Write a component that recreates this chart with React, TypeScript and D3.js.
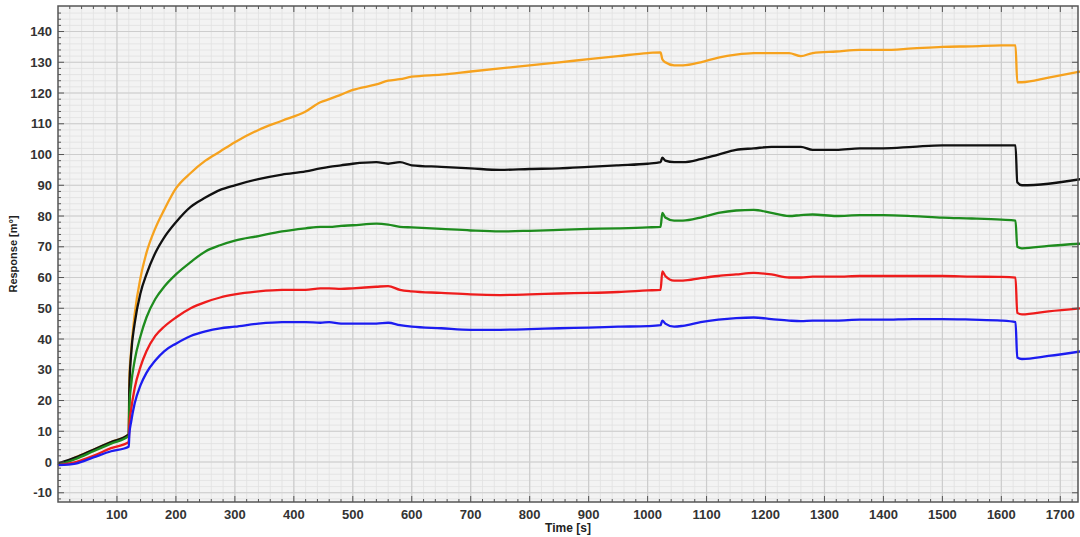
import React from "react";
import * as d3 from "d3";

// time points shared by every trace (s)
const times = [
  0, 30, 60, 90, 120, 121, 124, 130, 140, 150, 165, 180, 200, 225, 250, 275, 300, 340, 380, 420,
  445, 460, 480, 500, 540, 560, 580, 600, 650, 700, 750, 800, 850, 900, 950, 1000, 1022, 1025,
  1030, 1045, 1060, 1090, 1120, 1150, 1180, 1210, 1240, 1260, 1280, 1320, 1360, 1400, 1450, 1500,
  1550, 1600, 1624, 1627, 1635, 1680, 1735,
];

const orangeValues = [
  -1, 1.5, 4, 6.5, 9, 27, 36, 48, 60, 68, 76, 82, 89, 94, 98, 101, 104, 108, 111, 114,
  117, 118, 119.5, 121, 122.8, 124, 124.5, 125.3, 126, 127, 128, 129, 130, 131, 132, 133, 133.2, 131,
  130, 129, 129, 130, 131.5, 132.5, 133, 133, 133, 132, 133, 133.5, 134, 134, 134.5, 135,
  135.2, 135.5, 135.5, 123.5, 123.5, 125, 127,
];

const blackValues = [
  -0.5, 1.5, 4, 6.5, 9, 24, 35, 45, 55, 61, 68, 73, 78, 83, 86, 88.5, 90, 92, 93.5, 94.5,
  95.5, 96, 96.5, 97, 97.5, 97, 97.5, 96.5, 96, 95.5, 95, 95.3, 95.5, 96, 96.5, 97, 97.5, 99,
  98, 97.5, 97.5, 98.5, 100, 101.5, 102, 102.5, 102.5, 102.5, 101.5, 101.5, 102, 102, 102.5, 103,
  103, 103, 103, 91, 90, 90.5, 92,
];

const greenValues = [
  -1, 1, 3.5, 6, 8.5, 18, 25, 33, 41, 47, 53, 57, 61, 65, 68.5, 70.5, 72, 73.5, 75, 76,
  76.5, 76.5, 76.8, 77, 77.5, 77.2, 76.5, 76.3, 75.8, 75.3, 75, 75.2, 75.5, 75.8, 76, 76.3, 76.5, 81,
  79.5, 78.5, 78.5, 79.5, 81, 81.8, 82, 81, 80, 80.3, 80.5, 80, 80.3, 80.3, 80, 79.5,
  79.2, 78.8, 78.5, 70, 69.5, 70.3, 71,
];

const redValues = [
  -1, 0, 2, 4.5, 6.5, 12, 17, 24, 31, 36, 41, 44, 47, 50, 52, 53.5, 54.5, 55.5, 56, 56,
  56.5, 56.5, 56.3, 56.5, 57, 57.2, 56, 55.5, 55, 54.5, 54.3, 54.5, 54.8, 55, 55.3, 55.8, 56, 62,
  60.5, 59, 59, 59.8, 60.5, 61, 61.5, 61, 60, 60, 60.3, 60.3, 60.5, 60.5, 60.5, 60.5,
  60.3, 60.2, 60, 48.5, 48, 49, 50,
];

const blueValues = [
  -1, -0.5, 1.5, 3.5, 5, 9, 13, 19, 25, 29, 33, 36, 38.5, 41, 42.5, 43.5, 44, 45, 45.5, 45.5,
  45.3, 45.5, 45, 45, 45, 45.3, 44.5, 44, 43.5, 43, 43, 43.2, 43.5, 43.7, 44, 44.2, 44.5, 46,
  45, 44, 44.3, 45.5, 46.3, 46.8, 47, 46.5, 46, 45.8, 46, 46, 46.3, 46.3, 46.5, 46.5,
  46.3, 46, 45.5, 34, 33.5, 34.5, 36,
];

const seriesColors = ["#f6a21e", "#111111", "#1e8c1e", "#ee1c1c", "#1c1cf0"];
const seriesList = [orangeValues, blackValues, greenValues, redValues, blueValues];

const xTickLabels = [100, 200, 300, 400, 500, 600, 700, 800, 900, 1000, 1100, 1200, 1300, 1400, 1500, 1600, 1700];
const yTickLabels = [-10, 0, 10, 20, 30, 40, 50, 60, 70, 80, 90, 100, 110, 120, 130, 140];

const W = 1080;
const H = 537;
const margin = { top: 6, right: 2, bottom: 35, left: 58 };

export default function App() {
  const left = margin.left;
  const right = W - margin.right;
  const top = margin.top;
  const bottom = H - margin.bottom;

  const x = d3.scaleLinear().domain([0, 1730]).range([left, right]);
  const y = d3.scaleLinear().domain([-13, 148.3]).range([bottom, top]);

  const minorX = d3.range(20, 1730, 20);
  const minorY = d3.range(-12, 148, 2);

  const line = d3
    .line<number>()
    .x((_, i) => x(times[i]))
    .y((d) => y(d))
    .curve(d3.curveMonotoneX);

  const font = "Arial, 'Liberation Sans', sans-serif";

  return (
    <svg
      width={W}
      height={H}
      style={{ position: "absolute", left: 0, top: 0, background: "#fff" }}
    >
      <rect x={left} y={top} width={right - left} height={bottom - top} fill="#f3f3f3" />
      {/* minor grid */}
      {minorX.map((v) => (
        <line key={"mx" + v} x1={x(v)} x2={x(v)} y1={top} y2={bottom} stroke="#e1e1e1" strokeWidth={0.8} />
      ))}
      {minorY.map((v) => (
        <line key={"my" + v} x1={left} x2={right} y1={y(v)} y2={y(v)} stroke="#e1e1e1" strokeWidth={0.8} />
      ))}
      {/* major grid */}
      {xTickLabels.map((v) => (
        <line key={"gx" + v} x1={x(v)} x2={x(v)} y1={top} y2={bottom} stroke="#cdcdcd" strokeWidth={1.2} />
      ))}
      {yTickLabels.map((v) => (
        <line key={"gy" + v} x1={left} x2={right} y1={y(v)} y2={y(v)} stroke="#cdcdcd" strokeWidth={1.2} />
      ))}

      {/* traces */}
      {seriesList.map((vals, i) => (
        <path
          key={"s" + i}
          d={line(vals) || ""}
          fill="none"
          stroke={seriesColors[i]}
          strokeWidth={2.3}
          strokeLinejoin="round"
        />
      ))}

      {/* inner ticks on the frame */}
      {minorX.map((v) => (
        <g key={"tx" + v} stroke="#555">
          <line x1={x(v)} x2={x(v)} y1={top} y2={top + (v % 100 === 0 ? 6 : 3)} />
          <line x1={x(v)} x2={x(v)} y1={bottom} y2={bottom - (v % 100 === 0 ? 6 : 3)} />
        </g>
      ))}
      {minorY.map((v) => (
        <g key={"ty" + v} stroke="#555">
          <line x1={left} x2={left + (v % 10 === 0 ? 6 : 3)} y1={y(v)} y2={y(v)} />
          {v % 10 === 0 && <line x1={right} x2={right - 6} y1={y(v)} y2={y(v)} />}
        </g>
      ))}
      <rect
        x={left}
        y={top}
        width={right - left}
        height={bottom - top}
        fill="none"
        stroke="#555"
        strokeWidth={1.5}
      />

      {/* tick labels */}
      {xTickLabels.map((v) => (
        <text
          key={"lx" + v}
          x={x(v)}
          y={bottom + 17}
          textAnchor="middle"
          fontFamily={font}
          fontWeight="bold"
          fontSize={13}
          fill="#333"
        >
          {v}
        </text>
      ))}
      {yTickLabels.map((v) => (
        <text
          key={"ly" + v}
          x={left - 6}
          y={y(v) + 4.5}
          textAnchor="end"
          fontFamily={font}
          fontWeight="bold"
          fontSize={13}
          fill="#333"
        >
          {v}
        </text>
      ))}

      <text
        x={(left + right) / 2}
        y={H - 5}
        textAnchor="middle"
        fontFamily={font}
        fontWeight="bold"
        fontSize={12}
        fill="#222"
      >
        Time [s]
      </text>
      <text
        transform={`translate(17, ${(top + bottom) / 2}) rotate(-90)`}
        textAnchor="middle"
        fontFamily={font}
        fontWeight="bold"
        fontSize={11}
        fill="#222"
      >
        Response [m°]
      </text>
    </svg>
  );
}
